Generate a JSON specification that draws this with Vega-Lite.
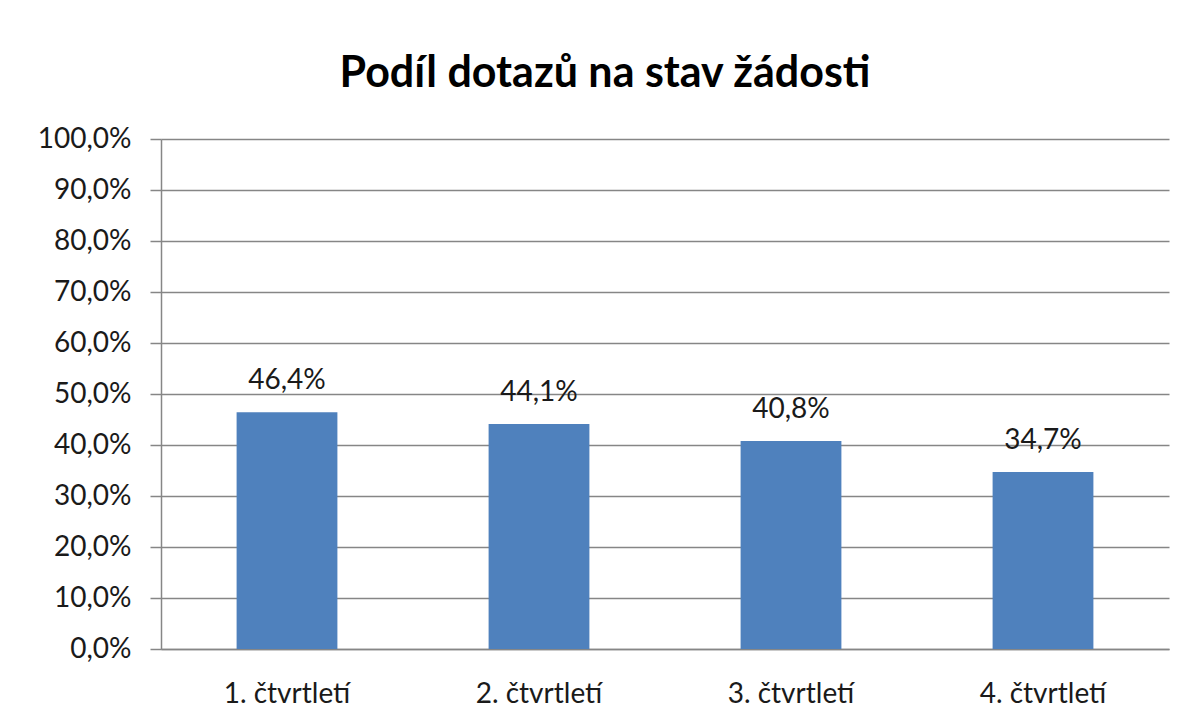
{
  "$schema": "https://vega.github.io/schema/vega-lite/v6.json",
  "width": 1008,
  "height": 510,
  "autosize": {"type": "none"},
  "padding": {"left": 161, "top": 139, "right": 26, "bottom": 73},
  "background": "white",
  "config": {
    "locale": {"number": {"decimal": ",", "thousands": " ", "grouping": [3], "currency": ["", " Kč"]}},
    "font": "Lato",
    "view": {"stroke": null}
  },
  "title": {
    "text": "Podíl dotazů na stav žádosti",
    "font": "Lato",
    "fontSize": 43,
    "fontWeight": "bold",
    "color": "#000000",
    "anchor": "middle",
    "dx": -60,
    "baseline": "alphabetic",
    "offset": -5
  },
  "data": {
    "values": [
      {"kvartal": "1. čtvrtletí", "podil": 0.464},
      {"kvartal": "2. čtvrtletí", "podil": 0.441},
      {"kvartal": "3. čtvrtletí", "podil": 0.408},
      {"kvartal": "4. čtvrtletí", "podil": 0.347}
    ]
  },
  "encoding": {
    "x": {
      "field": "kvartal",
      "type": "nominal",
      "sort": null,
      "scale": {"paddingInner": 0.6, "paddingOuter": 0.3},
      "axis": {
        "title": null,
        "labelAngle": 0,
        "labelFont": "Lato",
        "labelFontSize": 28,
        "labelColor": "#1a1a1a",
        "labelBaseline": "alphabetic",
        "labelPadding": 53,
        "ticks": false,
        "tickSize": 0,
        "domainColor": "#868686",
        "domainWidth": 1.5,
        "grid": false
      }
    },
    "y": {
      "field": "podil",
      "type": "quantitative",
      "scale": {"domain": [0, 1], "nice": false},
      "axis": {
        "title": null,
        "format": ".1%",
        "values": [0, 0.1, 0.2, 0.3, 0.4, 0.5, 0.6, 0.7, 0.8, 0.9, 1],
        "labelFont": "Lato",
        "labelFontSize": 28,
        "labelColor": "#1a1a1a",
        "labelPadding": 19,
        "tickSize": 11,
        "tickColor": "#868686",
        "tickWidth": 1.5,
        "domainColor": "#868686",
        "domainWidth": 1.5,
        "grid": true,
        "gridColor": "#868686",
        "gridWidth": 1.5
      }
    }
  },
  "layer": [
    {"mark": {"type": "bar", "color": "#4F81BD"}},
    {
      "mark": {"type": "text", "font": "Lato", "fontSize": 28, "color": "#1a1a1a", "baseline": "alphabetic", "dy": -23},
      "encoding": {"text": {"field": "podil", "type": "quantitative", "format": ".1%"}}
    }
  ]
}
